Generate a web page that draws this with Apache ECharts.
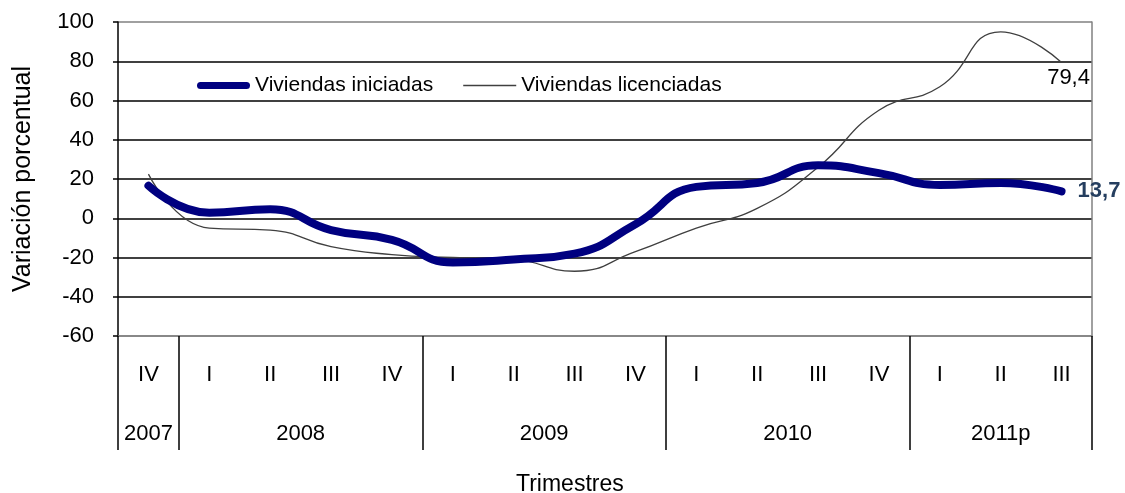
<!DOCTYPE html>
<html>
<head>
<meta charset="utf-8">
<script src="https://cdn.jsdelivr.net/npm/echarts@6/dist/echarts.min.js"></script>
<style>
  html, body { margin: 0; padding: 0; background: #fff; }
  #chart { width: 1125px; height: 493px; }
</style>
</head>
<body>
<div id="chart"></div>
<script>
// trimestres
const quarters = ["IV", "I", "II", "III", "IV", "I", "II", "III", "IV", "I", "II", "III", "IV", "I", "II", "III"];
// años y cuántos trimestres abarca cada uno
const years = ["2007", "2008", "2009", "2010", "2011p"];
const yearQuarters = [1, 4, 4, 4, 3];

const iniciadas = [16.6, 2.8, 4.6, -6, -11, -22.5, -21, -18, -3, 16, 18, 27, 23, 17, 18, 13.7];
const licenciadas = [22.5, -5, -6, -14.5, -18.5, -20, -21, -27, -17, -5, 5, 26, 55, 67, 95, 79.4];

const yTicks = [-60, -40, -20, 0, 20, 40, 60, 80, 100];

// eje de años a medio trimestre: etiqueta al centro, separador en los bordes
const halfSlots = quarters.length * 2 + 1;
const yearAxisData = new Array(halfSlots).fill("");
const yearBounds = [];
let start = 0;
years.forEach((y, i) => {
  yearBounds.push(start * 2);
  yearAxisData[start * 2 + yearQuarters[i]] = y;
  start += yearQuarters[i];
});
yearBounds.push(start * 2);

const font = "Liberation Sans, Arial, sans-serif";
const last = quarters.length - 1;
const comma = (p) => String(p.value).replace(".", ",");

const chart = echarts.init(document.getElementById("chart"));
chart.setOption({
  animation: false,
  textStyle: { fontFamily: font },
  title: {
    text: "Trimestres",
    left: 516,
    top: 473,
    padding: 0,
    textStyle: { fontFamily: font, fontSize: 23, fontWeight: "normal", color: "#000" },
  },
  legend: {
    left: 192,
    top: 70,
    itemWidth: 53,
    itemHeight: 14,
    itemGap: 30,
    textStyle: { fontFamily: font, fontSize: 21, color: "#000" },
    data: [
      { name: "Viviendas iniciadas", icon: "path://M3.5,0L49.5,0A3.5,3.5,0,0,1,49.5,7L3.5,7A3.5,3.5,0,0,1,3.5,0Z" },
      { name: "Viviendas licenciadas", icon: "path://M0,0L53,0L53,1.3L0,1.3Z" },
    ],
  },
  grid: { left: 118, right: 33, top: 22, bottom: 157 },
  xAxis: [
    {
      type: "category",
      position: "bottom",
      data: quarters,
      boundaryGap: true,
      axisLine: { onZero: false, lineStyle: { color: "#808080", width: 1.5 } },
      axisTick: { show: false },
      axisLabel: { interval: 0, margin: 28, fontSize: 22, color: "#000", fontFamily: font },
    },
    {
      type: "category",
      position: "bottom",
      data: yearAxisData,
      boundaryGap: false,
      axisLine: { show: false, onZero: false },
      axisTick: {
        show: true,
        inside: false,
        length: 114,
        interval: (idx) => yearBounds.indexOf(idx) >= 0,
        lineStyle: { color: "#000", width: 1.5 },
      },
      axisLabel: { interval: 0, margin: 87, fontSize: 22, color: "#000", fontFamily: font },
    },
  ],
  yAxis: [
    {
      type: "value",
      min: yTicks[0],
      max: yTicks[yTicks.length - 1],
      interval: 20,
      name: "Variación porcentual",
      nameLocation: "middle",
      nameGap: 82,
      nameTextStyle: { fontSize: 25, color: "#000", fontFamily: font },
      axisLine: { show: true, lineStyle: { color: "#000", width: 1.5 } },
      axisTick: { show: true, length: 5, lineStyle: { color: "#000", width: 1.5 } },
      axisLabel: { margin: 24, fontSize: 22, color: "#000", fontFamily: font },
      splitLine: {
        lineStyle: {
          width: 1.5,
          color: yTicks.map((t, i) => (i === 0 || i === yTicks.length - 1 ? "#808080" : "#000")),
        },
      },
    },
    {
      type: "value",
      position: "right",
      min: yTicks[0],
      max: yTicks[yTicks.length - 1],
      interval: 20,
      axisLine: { show: true, lineStyle: { color: "#808080", width: 1.5 } },
      axisTick: { show: false },
      axisLabel: { show: false },
      splitLine: { show: false },
    },
  ],
  series: [
    {
      name: "Viviendas licenciadas",
      type: "line",
      data: licenciadas.map((v, i) =>
        i === last
          ? {
              value: v,
              label: {
                show: true,
                position: "bottom",
                distance: 4,
                offset: [7, 0],
                formatter: comma,
                fontSize: 22,
                color: "#000",
                fontFamily: font,
              },
            }
          : v
      ),
      smooth: true,
      symbol: "circle",
      symbolSize: 0.1,
      z: 3,
      lineStyle: { color: "#404040", width: 1.3 },
      itemStyle: { color: "#404040" },
    },
    {
      name: "Viviendas iniciadas",
      type: "line",
      data: iniciadas.map((v, i) =>
        i === last
          ? {
              value: v,
              label: {
                show: true,
                position: "right",
                distance: 16,
                formatter: comma,
                fontSize: 22,
                fontWeight: "bold",
                color: "#253E5F",
                fontFamily: font,
              },
            }
          : v
      ),
      smooth: true,
      symbol: "circle",
      symbolSize: 0.1,
      z: 4,
      lineStyle: { color: "#000080", width: 8, cap: "round" },
      itemStyle: { color: "#000080" },
    },
  ],
});
</script>
</body>
</html>
